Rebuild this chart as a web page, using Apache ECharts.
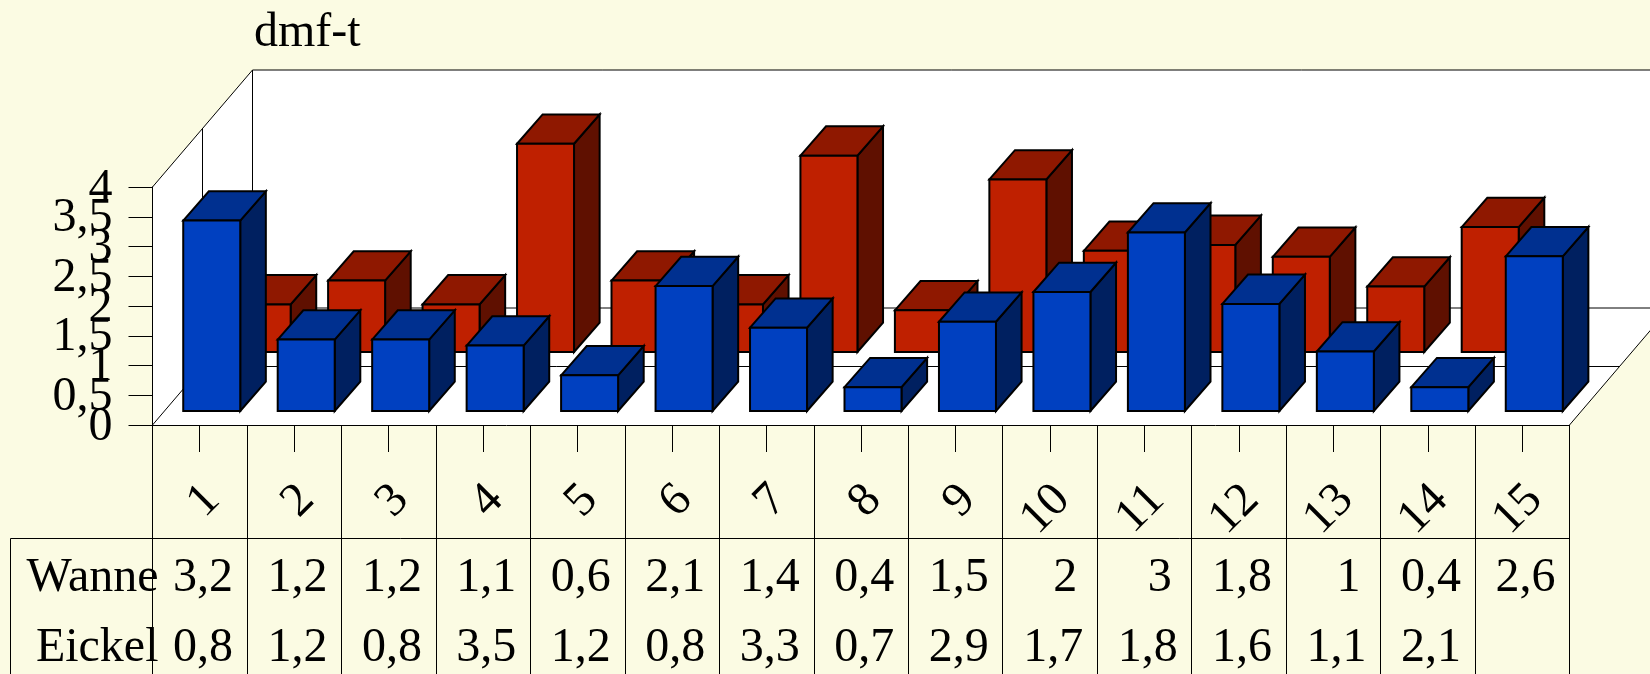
<!DOCTYPE html>
<html>
<head>
<meta charset="utf-8">
<title>dmf-t</title>
<style>
	html, body { margin: 0; padding: 0; background: #fbfbe3; }
	#chart { width: 1650px; height: 674px; }
</style>
<script src="https://cdn.jsdelivr.net/npm/echarts@6/dist/echarts.min.js"></script>
</head>
<body>
<div id="chart"></div>
<script>
const categories = ['1', '2', '3', '4', '5', '6', '7', '8', '9', '10', '11', '12', '13', '14', '15']
const wanne = [3.2, 1.2, 1.2, 1.1, 0.6, 2.1, 1.4, 0.4, 1.5, 2, 3, 1.8, 1, 0.4, 2.6]
const eickel = [0.8, 1.2, 0.8, 3.5, 1.2, 0.8, 3.3, 0.7, 2.9, 1.7, 1.8, 1.6, 1.1, 2.1, null]
const rowNames = ['Wanne', 'Eickel']
const tableRows = [wanne, eickel]
const yMin = 0
const yMax = 4
const yStep = 0.5

const FONT = '"Liberation Serif", "Times New Roman", serif'
const FONT_SIZE = 48
const BG = '#fbfbe3'

// fake 3d: how far the back of the plot is moved from the front
const DEPTH_X = 100
const DEPTH_Y = 117
const BAR_W = 57
const BAR_DX = 25.6
const BAR_DY = 29.3

const BLUE = { offX: 12, offY: 14, front: '#0040c0', top: '#003090', side: '#002060' }
const RED = { offX: 62.4, offY: 73, front: '#bf2000', top: '#8f1800', side: '#5f1000' }

const TABLE_LEFT = 10.5
const TABLE_TOP = 538.5
const ROW_Y = [578, 648]

const fmt = v => String(v).replace('.', ',')

function renderWalls(params, api) {
	const cs = params.coordSys
	const x0 = cs.x, x1 = cs.x + cs.width
	const yTop = cs.y, yBase = cs.y + cs.height
	const line = (a, b, c, d) => ({
		type: 'line',
		shape: { x1: a, y1: b, x2: c, y2: d },
		style: { stroke: '#000', lineWidth: 1 }
	})
	const poly = pts => ({ type: 'polygon', shape: { points: pts }, style: { fill: '#fff', stroke: null } })
	return {
		type: 'group',
		children: [
			poly([[x0, yTop], [x0 + DEPTH_X, yTop - DEPTH_Y], [x0 + DEPTH_X, yBase - DEPTH_Y], [x0, yBase]]),
			poly([[x0 + DEPTH_X, yTop - DEPTH_Y], [x1 + DEPTH_X, yTop - DEPTH_Y], [x1 + DEPTH_X, yBase - DEPTH_Y], [x0 + DEPTH_X, yBase - DEPTH_Y]]),
			poly([[x0, yBase], [x0 + DEPTH_X, yBase - DEPTH_Y], [x1 + DEPTH_X, yBase - DEPTH_Y], [x1, yBase]]),
			line(x0, yTop, x0 + DEPTH_X, yTop - DEPTH_Y),
			line(x0, yBase, x0 + DEPTH_X, yBase - DEPTH_Y),
			line(x1, yBase, x1 + DEPTH_X, yBase - DEPTH_Y),
			line(x0 + DEPTH_X, yTop - DEPTH_Y, x1 + DEPTH_X, yTop - DEPTH_Y),
			line(x0 + DEPTH_X, yTop - DEPTH_Y, x0 + DEPTH_X, yBase - DEPTH_Y),
			line(x0 + DEPTH_X, yBase - DEPTH_Y, x1 + DEPTH_X, yBase - DEPTH_Y),
			line(x0 + DEPTH_X / 2, yTop - DEPTH_Y / 2, x0 + DEPTH_X / 2, yBase - DEPTH_Y / 2),
			line(x0 + DEPTH_X / 2, yBase - DEPTH_Y / 2, x1 + DEPTH_X / 2, yBase - DEPTH_Y / 2)
		]
	}
}

function barRenderer(c) {
	return function (params, api) {
		const top = api.coord([api.value(0), api.value(1)])
		const base = api.coord([api.value(0), 0])
		const l = top[0] + c.offX - BAR_W / 2
		const r = l + BAR_W
		const t = top[1] - c.offY
		const b = base[1] - c.offY
		const face = (pts, fill) => ({
			type: 'polygon',
			shape: { points: pts },
			style: { fill: fill, stroke: '#000', lineWidth: 2, lineJoin: 'miter' }
		})
		return {
			type: 'group',
			children: [
				face([[r, t], [r + BAR_DX, t - BAR_DY], [r + BAR_DX, b - BAR_DY], [r, b]], c.side),
				face([[l, t], [l + BAR_DX, t - BAR_DY], [r + BAR_DX, t - BAR_DY], [r, t]], c.top),
				face([[l, t], [r, t], [r, b], [l, b]], c.front)
			]
		}
	}
}

function renderTable(params, api) {
	const cs = params.coordSys
	const x0 = cs.x, x1 = cs.x + cs.width
	const cell = cs.width / categories.length
	const txt = (s, x, y) => ({
		type: 'text',
		style: { text: s, x: x, y: y, align: 'right', verticalAlign: 'middle', fontSize: FONT_SIZE, fontFamily: FONT, fill: '#000' }
	})
	const children = [
		{ type: 'line', shape: { x1: TABLE_LEFT, y1: TABLE_TOP, x2: x1, y2: TABLE_TOP }, style: { stroke: '#000', lineWidth: 1 } },
		{ type: 'line', shape: { x1: TABLE_LEFT, y1: TABLE_TOP, x2: TABLE_LEFT, y2: 674 }, style: { stroke: '#000', lineWidth: 1 } }
	]
	tableRows.forEach((row, r) => {
		children.push(txt(rowNames[r], x0 + 6, ROW_Y[r]))
		row.forEach((v, i) => {
			if (v === null) return
			// whole numbers sit a bit further from the cell edge
			const pad = Number.isInteger(v) ? 20 : 14
			const right = api.coord([i, 0])[0] + cell / 2
			children.push(txt(fmt(v), right - pad, ROW_Y[r]))
		})
	})
	return { type: 'group', children: children }
}

// the y labels overlap in the original, echarts would drop some of them,
// so the two ends go on one axis and the rest on a second one
const yLabel = {
	margin: 40,
	verticalAlign: 'top',
	lineHeight: 4,
	fontFamily: FONT,
	fontSize: FONT_SIZE,
	color: '#000'
}

const myChart = echarts.init(document.getElementById('chart'))
myChart.setOption({
	animation: false,
	backgroundColor: BG,
	title: {
		text: 'dmf-t',
		left: 249,
		top: 4,
		textStyle: { fontFamily: FONT, fontSize: FONT_SIZE, fontWeight: 'normal', color: '#000' }
	},
	grid: { left: 152.5, right: 80.5, top: 187, bottom: 249 },
	xAxis: [
		{
			type: 'category',
			data: categories,
			axisLine: { lineStyle: { color: '#000', width: 1 } },
			axisTick: { show: true, alignWithLabel: true, length: 27, interval: 0, lineStyle: { color: '#000' } },
			axisLabel: {
				interval: 0,
				rotate: 45,
				align: 'right',
				verticalAlign: 'top',
				lineHeight: 36,
				margin: 55,
				fontFamily: FONT,
				fontSize: FONT_SIZE,
				color: '#000'
			}
		},
		{
			// table cell dividers
			type: 'category',
			position: 'bottom',
			data: categories,
			axisLine: { show: false },
			axisTick: { show: true, alignWithLabel: false, length: 249, interval: 0, lineStyle: { color: '#000' } },
			axisLabel: { show: false }
		}
	],
	yAxis: [
		{
			type: 'value',
			position: 'left',
			min: yMin,
			max: yMax,
			interval: yStep,
			splitLine: { show: false },
			axisLine: { show: true, lineStyle: { color: '#000', width: 1 } },
			axisTick: { show: true, length: 24, lineStyle: { color: '#000' } },
			axisLabel: Object.assign({}, yLabel, {
				showMinLabel: true,
				showMaxLabel: true,
				formatter: v => (v === yMin || v === yMax ? fmt(v) : '')
			})
		},
		{
			type: 'value',
			position: 'left',
			min: yMin,
			max: yMax,
			interval: yStep,
			splitLine: { show: false },
			axisLine: { show: false },
			axisTick: { show: false },
			axisLabel: Object.assign({}, yLabel, {
				showMinLabel: false,
				showMaxLabel: false,
				formatter: fmt
			})
		}
	],
	series: [
		{ type: 'custom', renderItem: renderWalls, data: [[0]], z: -1, silent: true },
		{
			type: 'custom',
			name: 'Eickel',
			renderItem: barRenderer(RED),
			data: eickel.map((v, i) => [i, v]),
			encode: { x: 0, y: 1 },
			z: 2
		},
		{
			type: 'custom',
			name: 'Wanne',
			renderItem: barRenderer(BLUE),
			data: wanne.map((v, i) => [i, v]),
			encode: { x: 0, y: 1 },
			z: 3
		},
		{ type: 'custom', renderItem: renderTable, data: [[0]], z: 5, silent: true }
	]
})
</script>
</body>
</html>
